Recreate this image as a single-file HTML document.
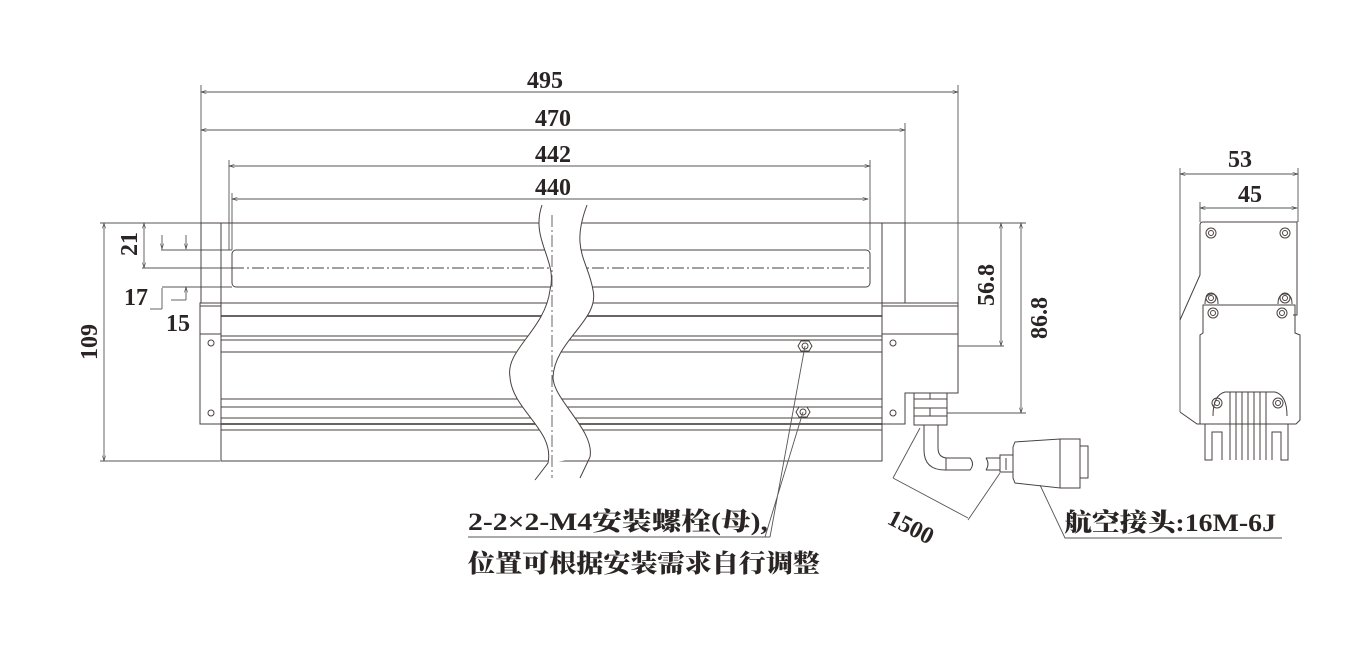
<!DOCTYPE html>
<html><head><meta charset="utf-8"><style>
html,body{margin:0;padding:0;background:#fff;}
svg{display:block;}
.l{stroke:#4a4040;stroke-width:1;fill:none;}
.t{stroke:#3a3030;stroke-width:1.6;fill:none;}
.d{stroke:#555;stroke-width:0.9;fill:none;}
.n{font-family:"Liberation Serif",serif;font-weight:bold;fill:#2a2424;font-size:24px;}
.c{font-family:"Liberation Serif","Noto Serif CJK SC",serif;font-weight:900;fill:#2a2424;font-size:25px;}
</style></head><body>
<svg width="1370" height="649" viewBox="0 0 1370 649" xmlns="http://www.w3.org/2000/svg">
<defs>
<marker id="a" viewBox="0 0 10 10" refX="10" refY="5" markerWidth="8" markerHeight="6" orient="auto-start-reverse"><path d="M0,2 L10,5 L0,8" fill="none" stroke="#444" stroke-width="1"/></marker>
</defs>
<g class="d">
<line x1="201" y1="92" x2="958" y2="92" marker-start="url(#a)" marker-end="url(#a)"/>
<line x1="201" y1="130" x2="905" y2="130" marker-start="url(#a)" marker-end="url(#a)"/>
<line x1="229" y1="166" x2="870" y2="166" marker-start="url(#a)" marker-end="url(#a)"/>
<line x1="232" y1="199" x2="868" y2="199" marker-start="url(#a)" marker-end="url(#a)"/>
<line x1="201" y1="85" x2="201" y2="223"/>
<line x1="958" y1="85" x2="958" y2="303"/>
<line x1="905" y1="123" x2="905" y2="223"/>
<line x1="229" y1="160" x2="229" y2="250"/>
<line x1="232" y1="193" x2="232" y2="250"/>
<line x1="870" y1="160" x2="870" y2="250"/>
</g>
<text class="n" x="545" y="88" text-anchor="middle">495</text>
<text class="n" x="553" y="126" text-anchor="middle">470</text>
<text class="n" x="553" y="162" text-anchor="middle">442</text>
<text class="n" x="553" y="195" text-anchor="middle">440</text>
<g class="d">
<line x1="104" y1="223" x2="104" y2="461" marker-start="url(#a)" marker-end="url(#a)"/>
<line x1="100" y1="223" x2="201" y2="223"/>
<line x1="100" y1="461" x2="220" y2="461"/>
<line x1="144" y1="223" x2="144" y2="268" marker-start="url(#a)" marker-end="url(#a)"/>
<line x1="142" y1="268" x2="232" y2="268"/>
<line x1="161" y1="250" x2="232" y2="250"/>
<line x1="162" y1="235" x2="162" y2="249" marker-end="url(#a)"/>
<line x1="186" y1="235" x2="186" y2="249" marker-end="url(#a)"/>
<line x1="162" y1="287" x2="232" y2="287"/>
<line x1="186" y1="287" x2="186" y2="300" marker-start="url(#a)"/>
<line x1="186" y1="300" x2="171" y2="300"/>
<line x1="162" y1="288" x2="162" y2="309"/>
<line x1="162" y1="309" x2="150" y2="309"/>
</g>
<text class="n" transform="translate(137,244) rotate(-90)" text-anchor="middle">21</text>
<text class="n" transform="translate(97,342) rotate(-90)" text-anchor="middle">109</text>
<text class="n" x="124" y="305">17</text>
<text class="n" x="166" y="331">15</text>
<g class="d">
<line x1="1001" y1="223" x2="1001" y2="346" marker-start="url(#a)" marker-end="url(#a)"/>
<line x1="1021" y1="223" x2="1021" y2="413" marker-start="url(#a)" marker-end="url(#a)"/>
<line x1="905" y1="223" x2="1026" y2="223"/>
<line x1="958" y1="346" x2="1004" y2="346"/>
<line x1="947" y1="413" x2="1026" y2="413"/>
</g>
<text class="n" transform="translate(994,285) rotate(-90)" text-anchor="middle">56.8</text>
<text class="n" transform="translate(1047,318) rotate(-90)" text-anchor="middle">86.8</text>
<g class="l">
<rect x="201" y="223" width="704" height="80"/>
<line x1="221" y1="223" x2="221" y2="303"/>
<line x1="882" y1="223" x2="882" y2="303"/>
<rect x="232" y="250" width="638" height="37" rx="4"/>
<line x1="232" y1="268" x2="870" y2="268" stroke-dasharray="12,3,2,3"/>
<rect x="221" y="303" width="661" height="158"/>
<line x1="221" y1="316" x2="882" y2="316" class="t"/>
<line x1="221" y1="336" x2="882" y2="336"/>
<line x1="221" y1="340" x2="882" y2="340"/>
<line x1="221" y1="352" x2="882" y2="352"/>
<line x1="221" y1="399" x2="882" y2="399"/>
<line x1="221" y1="407" x2="882" y2="407"/>
<line x1="221" y1="418" x2="882" y2="418"/>
<line x1="221" y1="424" x2="882" y2="424" class="t"/>
<line x1="221" y1="430" x2="882" y2="430"/>
<rect x="200" y="303" width="21" height="121"/>
<line x1="200" y1="306" x2="221" y2="306"/>
<line x1="200" y1="334" x2="221" y2="334"/>
<circle cx="211" cy="343" r="3"/><circle cx="211" cy="413" r="3"/>
<path d="M882,303 H958 V393 H905 V424 H882"/>
<line x1="882" y1="306" x2="958" y2="306"/>
<line x1="882" y1="334" x2="958" y2="334"/>
<circle cx="893" cy="343" r="3"/><circle cx="893" cy="413" r="3"/>
<polygon points="798,346 801,341 809,341 812,346 809,351 801,351"/><circle cx="805" cy="346" r="3"/>
<polygon points="796,412 799,407 807,407 810,412 807,417 799,417"/><circle cx="803" cy="412" r="3"/>
<rect x="914" y="393" width="33" height="32"/>
<line x1="914" y1="399" x2="947" y2="399"/>
<line x1="914" y1="408" x2="947" y2="408"/>
<line x1="914" y1="416" x2="947" y2="416"/>
<line x1="930" y1="393" x2="930" y2="399"/><line x1="930" y1="408" x2="930" y2="416"/>
<path d="M924,425 V450 Q924,470 945,470 H970 Q975,464 970,458 H948 Q938,458 938,448 V425"/>
<line x1="946" y1="458" x2="946" y2="470"/>
<path d="M986,458 H1000 M986,470 H1000 M986,458 Q990,464 986,470"/>
<rect x="1000" y="455" width="13" height="17"/>
<line x1="1006" y1="458" x2="1006" y2="470"/>
<path d="M1013,447 L1015,442 L1060,439 V488 L1015,483 L1013,478 Z"/>
<rect x="1060" y="439" width="20" height="49"/>
<rect x="1080" y="446" width="8" height="32"/>
</g>
<path d="M542,205 C530,240 558,260 550,290 C545,330 505,350 510,377 C512,410 555,430 548,463 L590,457 C595,430 553,400 553,377 C555,340 600,320 593,290 C588,260 570,250 587,205 Z" fill="#fff" stroke="none"/>
<path class="l" d="M542,205 C530,240 558,260 550,290 C545,330 505,350 510,377 C512,410 555,430 548,463 L535,480"/>
<path class="l" d="M587,205 C570,250 588,260 593,290 C600,320 555,340 553,377 C553,400 595,430 590,457 L580,478"/>
<line class="d" x1="552" y1="215" x2="552" y2="478" stroke-dasharray="12,3,2,3"/>
<g class="d">
<path d="M805,346 L770,537 M803,412 L765,537 M770,537 H468"/>
<path d="M920,428 L893,478 M893,478 L968,518 M1000,473 L968,520"/>
<path d="M1040,485 L1065,538 H1282"/>
</g>
<text class="n" transform="translate(886,523) rotate(27)">1500</text>
<text class="c" x="468" y="530" textLength="300" lengthAdjust="spacingAndGlyphs">2-2×2-M4安装螺栓(母),</text>
<text class="c" x="468" y="572" textLength="352" lengthAdjust="spacingAndGlyphs">位置可根据安装需求自行调整</text>
<text class="c" x="1064" y="531" textLength="212" lengthAdjust="spacingAndGlyphs">航空接头:16M-6J</text>
<g class="d">
<line x1="1180" y1="174" x2="1298" y2="174" marker-start="url(#a)" marker-end="url(#a)"/>
<line x1="1200" y1="208" x2="1297" y2="208" marker-start="url(#a)" marker-end="url(#a)"/>
<line x1="1180" y1="168" x2="1180" y2="412"/>
<line x1="1298" y1="168" x2="1298" y2="222"/>
<line x1="1200" y1="202" x2="1200" y2="222"/>
</g>
<text class="n" x="1240" y="167" text-anchor="middle">53</text>
<text class="n" x="1250" y="202" text-anchor="middle">45</text>
<g class="l">
<path d="M1180,412 L1197,424 H1200 M1180,320 L1200,275 V225 Q1200,222 1203,222 H1297 V315 H1293"/>
<path d="M1205,304 Q1205,294 1212,294 Q1218,294 1218,304 M1278,304 Q1278,294 1285,294 Q1292,294 1292,304"/>
<path d="M1203,305 H1295 V333 L1300,335 V420 L1296,424 H1200 V335 L1203,333 Z"/>
<path d="M1213,416 Q1213,395 1225,392 H1275 Q1287,395 1287,416"/>
<path d="M1205,424 V460 H1212 V432 H1222 V460 M1288,424 V460 H1281 V432 H1272 V460"/>
<path d="M1230,392 V460 M1236,392 V460 M1242,392 V460 M1248,392 V460 M1254,392 V460 M1260,392 V460 M1266,392 V460"/>
<circle cx="1211" cy="233" r="5"/><circle cx="1211" cy="233" r="2.5"/>
<circle cx="1285" cy="233" r="5"/><circle cx="1285" cy="233" r="2.5"/>
<circle cx="1211" cy="298" r="5"/><circle cx="1211" cy="298" r="2.5"/>
<circle cx="1285" cy="298" r="5"/><circle cx="1285" cy="298" r="2.5"/>
<circle cx="1213" cy="313" r="5"/><circle cx="1213" cy="313" r="2.5"/>
<circle cx="1282" cy="313" r="5"/><circle cx="1282" cy="313" r="2.5"/>
<circle cx="1217" cy="403" r="5"/><circle cx="1217" cy="403" r="2.5"/>
<circle cx="1278" cy="403" r="5"/><circle cx="1278" cy="403" r="2.5"/>
</g>
</svg>
</body></html>
